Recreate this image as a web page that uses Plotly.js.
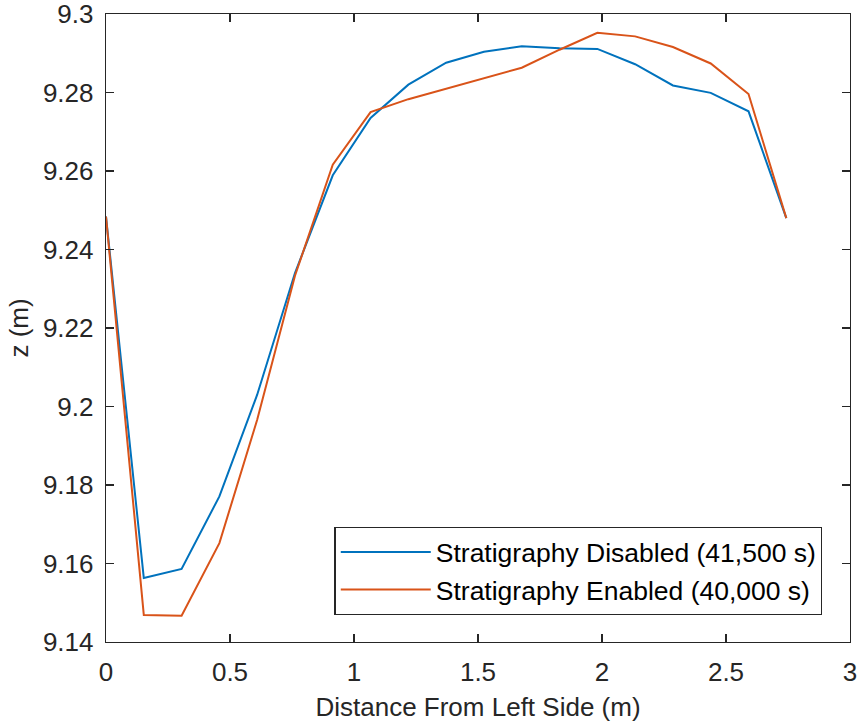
<!DOCTYPE html>
<html>
<head>
<meta charset="utf-8">
<script src="https://cdn.plot.ly/plotly-3.0.1.min.js"></script>
<style>html,body{margin:0;padding:0;background:#fff;}#chart{width:857px;height:723px;}</style>
</head>
<body>
<div id="chart"></div>
<script>
const distance = [0, 0.1524, 0.3048, 0.4572, 0.6096, 0.762, 0.9144, 1.0668, 1.2192, 1.3716, 1.524, 1.6764, 1.8288, 1.9812, 2.1336, 2.286, 2.4384, 2.5908, 2.7432];
const zDisabled = [9.2484, 9.1563, 9.1586, 9.1771, 9.2030, 9.2340, 9.2589, 9.2735, 9.2820, 9.2876, 9.2904, 9.2918, 9.2913, 9.2911, 9.2872, 9.2818, 9.2799, 9.2752, 9.2480];
const zEnabled = [9.2484, 9.1469, 9.1467, 9.1652, 9.1966, 9.2333, 9.2616, 9.2750, 9.2783, 9.2810, 9.2837, 9.2863, 9.2909, 9.2952, 9.2943, 9.2916, 9.2874, 9.2796, 9.2480];
const nameDisabled = 'Stratigraphy Disabled (41,500 s)';
const nameEnabled = 'Stratigraphy Enabled (40,000 s)';
const xTicks = [0, 0.5, 1, 1.5, 2, 2.5, 3];
const xTickText = ['0', '0.5', '1', '1.5', '2', '2.5', '3'];
const yTicks = [9.14, 9.16, 9.18, 9.2, 9.22, 9.24, 9.26, 9.28, 9.3];
const yTickText = ['9.14', '9.16', '9.18', '9.2', '9.22', '9.24', '9.26', '9.28', '9.3'];

const font = {family: 'Arial, "Liberation Sans", Helvetica, sans-serif', size: 26, color: '#262626'};
const axisCommon = {
  showgrid: false, zeroline: false, showline: true, linecolor: '#262626', linewidth: 1.3,
  mirror: 'ticks', ticks: 'inside', ticklen: 8, tickwidth: 1.3, tickcolor: '#262626',
  tickfont: font, ticklabelstandoff: 6, ticklabeloverflow: 'allow'
};
const data = [
  {x: distance, y: zDisabled, type: 'scatter', mode: 'lines', name: nameDisabled, line: {color: '#0072BD', width: 2}},
  {x: distance, y: zEnabled, type: 'scatter', mode: 'lines', name: nameEnabled, line: {color: '#D95319', width: 2}}
];
const layout = {
  width: 857, height: 723,
  margin: {l: 106, r: 7, t: 14, b: 81},
  paper_bgcolor: '#fff', plot_bgcolor: '#fff',
  font: font,
  showlegend: true,
  legend: {
    x: 0.963, xanchor: 'right', y: 0.043, yanchor: 'bottom',
    bgcolor: '#fff', bordercolor: '#262626', borderwidth: 1.3,
    font: {family: font.family, size: 26.5, color: '#000'},
    itemwidth: 90, tracegroupgap: 0
  },
  xaxis: Object.assign({}, axisCommon, {
    range: [0, 3.0000001], tickvals: xTicks, ticktext: xTickText,
    title: {text: 'Distance From Left Side (m)', font: font, standoff: 12}
  }),
  yaxis: Object.assign({}, axisCommon, {
    range: [9.1399999, 9.3000001], tickvals: yTicks, ticktext: yTickText,
    title: {text: 'z (m)', font: font, standoff: 6}
  })
};
Plotly.newPlot('chart', data, layout, {displayModeBar: false, staticPlot: true});
</script>
</body>
</html>
